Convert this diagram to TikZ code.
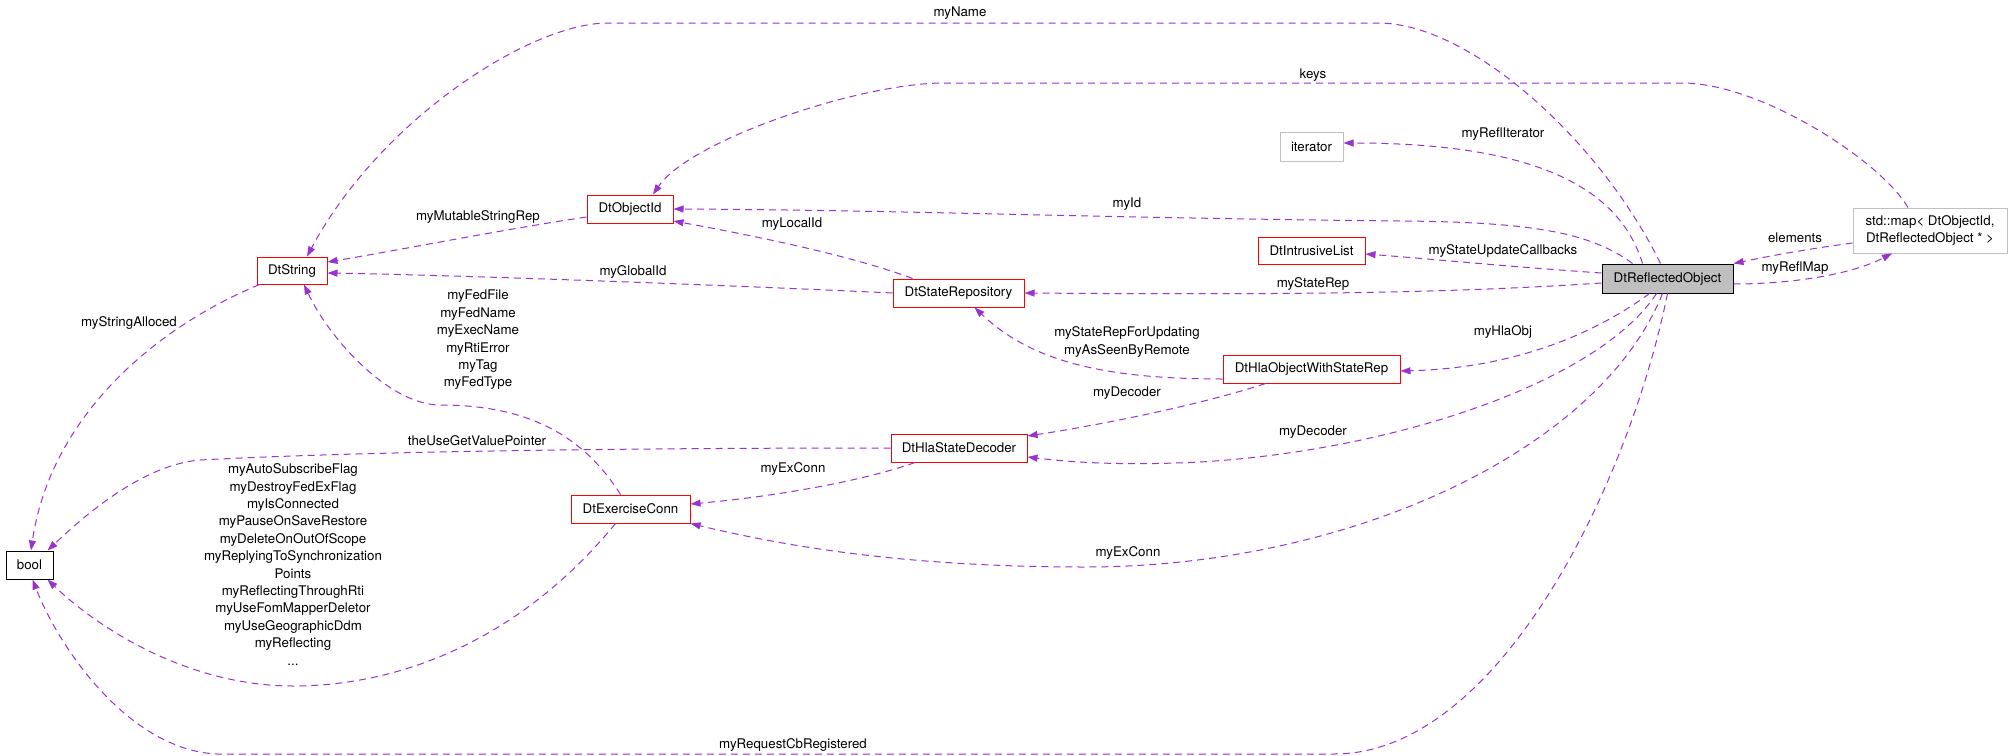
\documentclass[tikz,border=0pt]{standalone}
\usepackage{fontspec}
\setmainfont{TeX Gyre Heros}
\usetikzlibrary{arrows.meta,calc}
\definecolor{edgec}{HTML}{9A32CD}
\definecolor{grayfill}{HTML}{BFBFBF}
\definecolor{grayline}{HTML}{BFBFBF}
\newcommand\dfont{\fontsize{13.3}{17.4}\selectfont}
\tikzset{
  cls/.style={draw=red, fill=white, line width=1pt, inner sep=0pt, font=\dfont, align=center},
  blackbox/.style={cls, draw=black},
  graybox/.style={cls, draw=grayline},
  mainbox/.style={cls, draw=black, fill=grayfill},
  edge/.style={draw=edgec, line width=1pt, dash pattern=on 7pt off 5pt,
    -{Triangle[length=10pt,width=7pt,fill=edgec]}},
  lbl/.style={font=\dfont, align=center, inner sep=0pt}
}
\begin{document}
\begin{tikzpicture}[x=1pt,y=-1pt]
\useasboundingbox (0,0) rectangle (2013,755);
\fill[white] (0,0) rectangle (2013,755);
% nodes
\node[blackbox, minimum width=47pt, minimum height=28pt] (bool) at (29.5,565) {bool};
\node[cls, minimum width=70pt, minimum height=27pt] (str) at (292,270.5) {DtString};
\node[cls, minimum width=86pt, minimum height=28pt] (oid) at (630,209) {DtObjectId};
\node[cls, minimum width=131pt, minimum height=28pt] (srep) at (958.5,293) {DtStateRepository};
\node[cls, minimum width=136pt, minimum height=28pt] (dec) at (959,448) {DtHlaStateDecoder};
\node[cls, minimum width=119pt, minimum height=28pt] (exc) at (630.5,509) {DtExerciseConn};
\node[cls, minimum width=177pt, minimum height=28pt] (hla) at (1311.5,369) {DtHlaObjectWithStateRep};
\node[graybox, minimum width=63pt, minimum height=29pt] (it) at (1311.5,146.5) {iterator};
\node[cls, minimum width=107pt, minimum height=27pt] (il) at (1311.5,250.5) {DtIntrusiveList};
\node[mainbox, minimum width=131pt, minimum height=29pt] (refl) at (1667.5,278.5) {DtReflectedObject};
\node[graybox, minimum width=154pt, minimum height=45pt, font=\fontsize{13.3}{17}\selectfont] (map) at (1930,230.5) {std::map\textless{} DtObjectId,\\ DtReflectedObject * \textgreater{}};

% edges from DtReflectedObject
\draw[edge] ($(refl.north)+(-7,0)$) .. controls (1600,140) and (1470,23) .. (1378,23)
  -- (608,23) .. controls (530,23) and (380,120) .. ($(str.north)+(15,0)$);
\draw[edge] ($(refl.north)+(-25,0)$) .. controls (1620,190) and (1540,143) .. ($(it.east)+(0,-3.5)$);
\draw[edge] ($(refl.north)+(-35,0)$) .. controls (1590,232) and (1530,222) .. (1400,221)
  .. controls (1100,218) and (900,210) .. (oid.east);
\draw[edge] ($(refl.west)+(0,-5.5)$) .. controls (1500,266) and (1420,258) .. ($(il.east)+(0,3.5)$);
\draw[edge] ($(refl.west)+(0,4.5)$) .. controls (1450,293) and (1300,295) .. (srep.east);
\draw[edge] ($(refl.south)+(-18,0)$) .. controls (1600,330) and (1520,368) .. ($(hla.east)+(0,2)$);
\draw[edge] ($(refl.south)+(-11,0)$) .. controls (1600,380) and (1400,450) .. (1200,462)
  .. controls (1120,466) and (1070,462) .. ($(dec.east)+(0,9)$);
\draw[edge] ($(refl.south)+(-5,0)$) .. controls (1600,450) and (1350,567) .. (1085,567)
  .. controls (900,567) and (780,545) .. (exc.south east);
\draw[edge] (refl.south) .. controls (1630,480) and (1500,754) .. (1334,754)
  -- (217,754) .. controls (130,750) and (60,650) .. ($(bool.south)+(3,0)$);
\draw[edge] ($(refl.east)+(0,5.5)$) .. controls (1790,284) and (1850,275) .. ($(map.south)+(-38,0)$);
% edges from std::map
\draw[edge] ($(map.west)+(0,12.5)$) .. controls (1800,250) and (1760,258) .. (refl.north east);
\draw[edge] ($(map.north)+(-22,0)$) .. controls (1880,160) and (1760,83) .. (1682,83)
  -- (944,83) .. controls (860,83) and (690,140) .. ($(oid.north)+(23,0)$);
% DtObjectId
\draw[edge] ($(oid.west)+(0,8)$) .. controls (500,230) and (400,250) .. ($(str.east)+(0,-8.5)$);
% DtStateRepository
\draw[edge] ($(srep.north)+(-46,0)$) .. controls (850,255) and (750,235) .. ($(oid.east)+(0,12)$);
\draw[edge] (srep.west) .. controls (700,284) and (450,275) .. ($(str.east)+(0,2.5)$);
% DtHlaObjectWithStateRep
\draw[edge] ($(hla.west)+(0,10)$) .. controls (1100,379) and (1030,360) .. ($(srep.south)+(16,0)$);
\draw[edge] ($(hla.south)+(-46,0)$) .. controls (1200,405) and (1100,425) .. ($(dec.east)+(0,-12)$);
% DtHlaStateDecoder
\draw[edge] (dec.west) .. controls (600,448) and (350,452) .. (200,460)
  .. controls (140,465) and (80,520) .. ($(bool.north east)+(-6,0)$);
\draw[edge] ($(dec.south)+(-44,0)$) .. controls (860,482) and (770,497) .. ($(exc.east)+(0,-5)$);
% DtString
\draw[edge] ($(str.south west)+(3,0)$) .. controls (150,330) and (50,420) .. ($(bool.north)+(1.5,0)$);
% DtExerciseConn
\draw[edge] ($(exc.north)+(-10,0)$) .. controls (580,430) and (520,405) .. (440,405)
  .. controls (390,405) and (330,340) .. ($(str.south)+(12,0)$);
\draw[edge] ($(exc.south)+(-15,0)$) .. controls (520,640) and (400,686) .. (293,686)
  .. controls (190,686) and (100,630) .. ($(bool.south east)+(-6,0)$);

% labels
\node[lbl] (lname) at (960,13) {myName};
\node[lbl] (lkeys) at (1313,75) {keys};
\node[lbl] (liter) at (1503,134) {myReflIterator};
\node[lbl] (lid) at (1127,204) {myId};
\node[lbl] (lmut) at (478,217) {myMutableStringRep};
\node[lbl] (lloc) at (792,224) {myLocalId};
\node[lbl] (lcb) at (1503,251) {myStateUpdateCallbacks};
\node[lbl] (lel) at (1795,238) {elements};
\node[lbl] (lglob) at (633,272) {myGlobalId};
\node[lbl] (lsrep) at (1313,284) {myStateRep};
\node[lbl] (lmap) at (1795,268) {myReflMap};
\node[lbl] (lalloc) at (129,323) {myStringAlloced};
\node[lbl] (lfed) at (478,340) {myFedFile\\myFedName\\myExecName\\myRtiError\\myTag\\myFedType};
\node[lbl] (lupd) at (1127,342) {myStateRepForUpdating\\myAsSeenByRemote};
\node[lbl] (lhla) at (1503,332) {myHlaObj};
\node[lbl] (ldec1) at (1127,393) {myDecoder};
\node[lbl] (ldec2) at (1313,432) {myDecoder};
\node[lbl] (lget) at (477,441) {theUseGetValuePointer};
\node[lbl] (lex1) at (793,469) {myExConn};
\node[lbl] (lflags) at (293,564.5) {myAutoSubscribeFlag\\myDestroyFedExFlag\\myIsConnected\\myPauseOnSaveRestore\\myDeleteOnOutOfScope\\myReplyingToSynchronization\\Points\\myReflectingThroughRti\\myUseFomMapperDeletor\\myUseGeographicDdm\\myReflecting\\...};
\node[lbl] (lex2) at (1128,553) {myExConn};
\node[lbl] (lreq) at (793,745) {myRequestCbRegistered};
\end{tikzpicture}
\end{document}
